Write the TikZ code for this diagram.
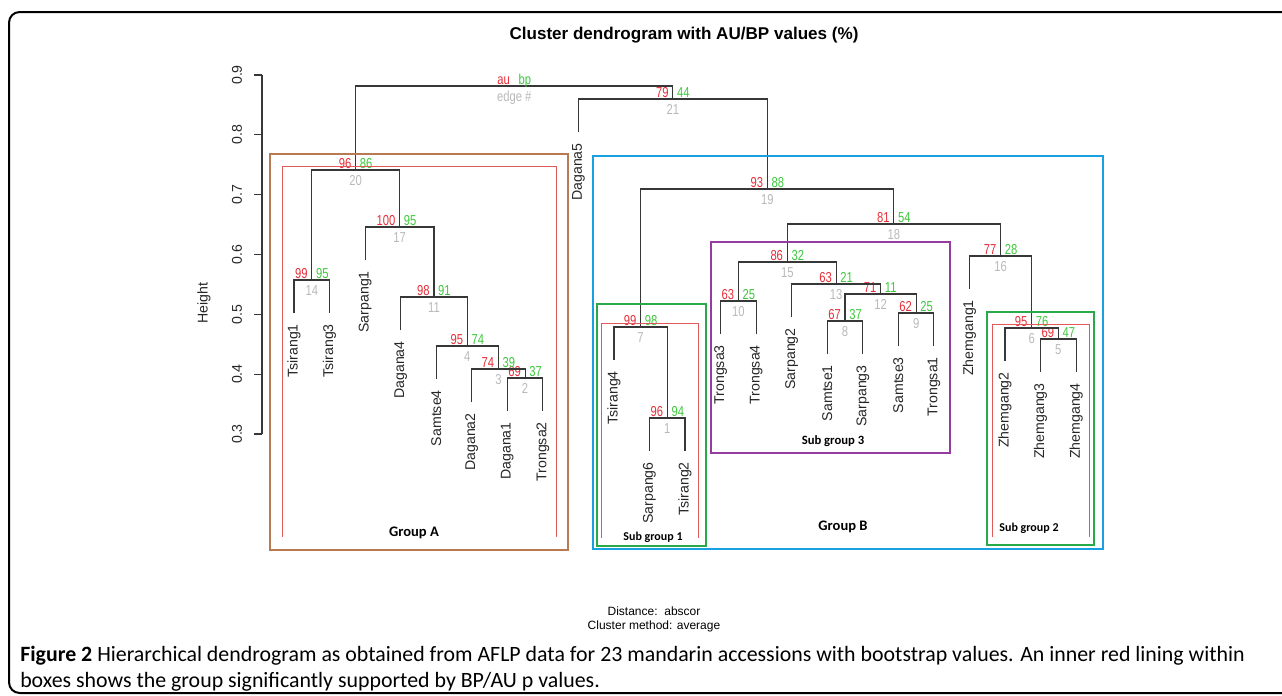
\documentclass[tikz,border=0pt]{standalone}
\usepackage{graphicx}
\usepackage{fontspec}
\setmainfont{Liberation Sans}
\newfontfamily\calfont{Carlito}
\usepackage{tikz}
\usetikzlibrary{calc}

\definecolor{treegray}{RGB}{55,55,55}
\definecolor{aured}{RGB}{230,45,55}
\definecolor{bpgreen}{RGB}{60,200,60}
\definecolor{edgegray}{RGB}{185,185,185}
\definecolor{groupA}{RGB}{183,122,84}
\definecolor{groupB}{RGB}{25,160,225}
\definecolor{subgreen}{RGB}{40,170,75}
\definecolor{subpurple}{RGB}{150,60,160}
\definecolor{pvred}{RGB}{225,90,90}

\begin{document}
\begin{tikzpicture}[x=0.75pt, y=-0.75pt,
  branch/.style={draw=treegray, line width=0.85pt},
  leaf/.style={rotate=90, anchor=east, inner sep=0pt, text=black!85,
    font=\fontsize{10.6}{12}\selectfont},
  pvnum/.style={inner sep=0pt, font=\fontsize{10.8}{11}\selectfont},
  box/.style={line width=2.2pt},
  pvrect/.style={draw=pvred, line width=0.6pt},
  grouplabel/.style={font=\calfont\bfseries\fontsize{10.9}{12}\selectfont},
  sublabel/.style={font=\calfont\bfseries\fontsize{9}{10}\selectfont},
  capt/.style={inner sep=0pt, font=\calfont\fontsize{16.4}{18}\selectfont}]

  % Page and frame
  \useasboundingbox (0,0) rectangle (1282,696);
  \begin{scope}
    \clip (0,0) rectangle (1282,696);
    \draw[line width=1.5pt, rounded corners=8pt] (9,12) rectangle (1320,693);
  \end{scope}

  % Parameters
  \def\xo{294}     % x of the first leaf
  \def\dx{35.55}   % leaf spacing
  \def\hang{33}    % leaf hang below its merge
  \def\pvt#1{\scalebox{0.78}[1]{#1}}

  % Title
  \node[font=\bfseries\fontsize{12.8}{14}\selectfont] (title) at (684,35)
    {Cluster dendrogram with AU/BP values (\%)};

  % Height axis
  \draw[branch] (262,75) -- (262,434);
  \foreach \h [count=\k from 0] in {0.9,0.8,0.7,0.6,0.5,0.4,0.3} {
    \draw[branch] (262,{75+59.83*\k}) -- ++(-8,0);
    \node[leaf, anchor=center] at (237,{75+59.83*\k}) {\h};
  }
  \node[leaf, anchor=center] (ylab) at (204,303) {Height};

  % Leaves: name / height of the merge above it
  \foreach \lab/\py [count=\i from 0] in {Tsirang1/280, Tsirang3/280,
      Sarpang1/227, Dagana4/297, Samtse4/346, Dagana2/369, Dagana1/378,
      Trongsa2/378, Dagana5/99, Tsirang4/327, Sarpang6/418, Tsirang2/418,
      Trongsa3/301, Trongsa4/301, Sarpang2/284, Samtse1/321, Sarpang3/321,
      Samtse3/313, Trongsa1/313, Zhemgang1/256, Zhemgang2/328,
      Zhemgang3/339, Zhemgang4/339} {
    \coordinate (t\lab) at ({\xo+\dx*\i},{\py+\hang});
    \node[leaf] (\lab) at ($(t\lab)+(0,11)$) {\lab};
  }

  % merge: name, left, right, y, au, bp, edge #
  \def\merge#1#2#3#4#5#6#7{%
    \path ($(#2)!.5!(#3)$) coordinate (tmp);
    \coordinate (hy) at (0,#4);
    \coordinate (#1) at (tmp |- hy);
    \draw[branch] (#2) |- (#1) -| (#3);
    \node[pvnum, text=aured, anchor=base east] at ($(#1)+(-4,-2)$) {\pvt{#5}};
    \node[pvnum, text=bpgreen, anchor=base west] at ($(#1)+(4,-2)$) {\pvt{#6}};
    \node[pvnum, text=edgegray, anchor=north] at ($(#1)+(0,5)$) {\pvt{#7}};
  }

  % Group A side
  \merge{n14}{tTsirang1}{tTsirang3}{280}{99}{95}{14}
  \merge{n2}{tDagana1}{tTrongsa2}{378}{69}{37}{2}
  \merge{n3}{tDagana2}{n2}{369}{74}{39}{3}
  \merge{n4}{tSamtse4}{n3}{346}{95}{74}{4}
  \merge{n11}{tDagana4}{n4}{297}{98}{91}{11}
  \merge{n17}{tSarpang1}{n11}{227}{100}{95}{17}
  \merge{n20}{n14}{n17}{170}{96}{86}{20}

  % Group B side
  \merge{n1}{tSarpang6}{tTsirang2}{418}{96}{94}{1}
  \merge{n7}{tTsirang4}{n1}{327}{99}{98}{7}
  \merge{n10}{tTrongsa3}{tTrongsa4}{301}{63}{25}{10}
  \merge{n8}{tSamtse1}{tSarpang3}{321}{67}{37}{8}
  \merge{n9}{tSamtse3}{tTrongsa1}{313}{62}{25}{9}
  \merge{n12}{n8}{n9}{294}{71}{11}{12}
  \merge{n13}{tSarpang2}{n12}{284}{63}{21}{13}
  \merge{n15}{n10}{n13}{262}{86}{32}{15}
  \merge{n5}{tZhemgang3}{tZhemgang4}{339}{69}{47}{5}
  \merge{n6}{tZhemgang2}{n5}{328}{95}{76}{6}
  \merge{n16}{tZhemgang1}{n6}{256}{77}{28}{16}
  \merge{n18}{n15}{n16}{224}{81}{54}{18}
  \merge{n19}{n7}{n18}{189}{93}{88}{19}
  \merge{n21}{tDagana5}{n19}{99}{79}{44}{21}

  % root carries the legend
  \merge{n22}{n20}{n21}{86}{au}{bp}{edge \#}

  % Boxes drawn over the tree
  \draw[box, draw=groupA] (270,154) rectangle (568,550);
  \draw[pvrect] (282,537) |- (556,166) -- (556,537);
  \draw[box, draw=groupB] (593,156) rectangle (1103,549);
  \draw[box, draw=subpurple] (711,242) rectangle (950,453);
  \draw[box, draw=subgreen] (597,304) rectangle (706,546);
  \draw[pvrect] (601,538) |- (698,323) -- (698,538);
  \draw[box, draw=subgreen] (987,312) rectangle (1094,545);
  \draw[pvrect] (992,537) |- (1089,324) -- (1089,537);

  \node[grouplabel] (grpA) at (414,533) {Group A};
  \node[grouplabel] (grpB) at (843,527) {Group B};
  \node[sublabel] (sub1) at (653,537) {Sub group 1};
  \node[sublabel, font=\calfont\bfseries\fontsize{9.5}{10}\selectfont] (sub3)
    at (833,441) {Sub group 3};
  \node[sublabel] (sub2) at (1029,528) {Sub group 2};

  % Distance and method
  \node[font=\fontsize{9}{10}\selectfont] (dist) at (654,611) {Distance:\ \ abscor};
  \node[font=\fontsize{9}{10}\selectfont] (meth) at (654,626) {Cluster method: average};

  % Caption
  \node[capt, anchor=base west] (cap1) at (20,661) {\textbf{Figure 2} Hierarchical
    dendrogram as obtained from AFLP data for 23 mandarin accessions with bootstrap
    values. An inner red lining within};
  \node[capt, anchor=base west] (cap2) at (20,687) {boxes shows the group
    significantly supported by BP/AU p values.};

\end{tikzpicture}
\end{document}
